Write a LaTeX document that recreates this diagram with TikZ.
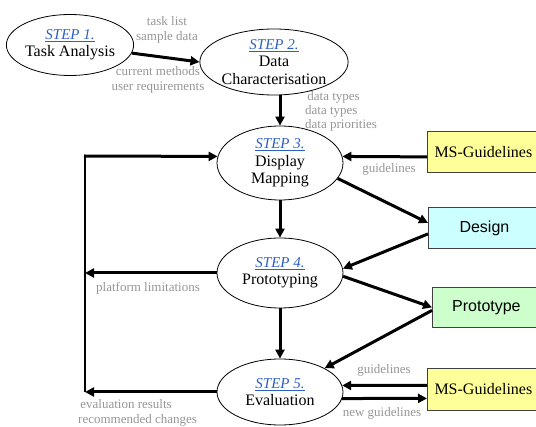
\documentclass[tikz,border=0pt]{standalone}
\usepackage{fontspec}
\setmainfont{Liberation Serif}
\newfontfamily\arialfont{Liberation Sans}
\usetikzlibrary{shapes.geometric,arrows.meta}

\definecolor{notegray}{RGB}{150,150,150}
\definecolor{stepblue}{RGB}{45,95,200}
\definecolor{msyellow}{RGB}{255,255,153}
\definecolor{designcyan}{RGB}{204,255,255}
\definecolor{protogreen}{RGB}{204,255,204}

\newcommand\stepno[1]{{\fontsize{15}{18}\selectfont\color{stepblue}\itshape\underline{#1}}}

\begin{document}
\begin{tikzpicture}[x=1pt,y=-1pt,
  stage/.style={ellipse,draw,line width=0.8pt,inner sep=0pt,align=center,
    font=\fontsize{16}{17.5}\selectfont},
  toolbox/.style={rectangle,draw=black!75,line width=0.8pt,anchor=north west,
    inner sep=0pt,minimum width=112pt,minimum height=41pt},
  flow/.style={line width=3pt,-{Triangle[length=9pt,width=9pt]}},
  note/.style={text=notegray,font=\fontsize{13}{15}\selectfont,inner sep=0pt}]

\useasboundingbox (0,0) rectangle (536,427);
\clip (0,0) rectangle (536,427);

% process stages
\node[stage,minimum width=113pt,minimum height=61pt] (s1) at (70,45)
  {\stepno{STEP 1.}\\Task Analysis};
\node[stage,minimum width=134pt,minimum height=66pt] (s2) at (274,62)
  {\stepno{STEP 2.}\\Data\\Characterisation};
\node[stage,minimum width=126pt,minimum height=74pt] (s3) at (280,163)
  {\stepno{STEP 3.}\\Display\\Mapping};
\node[stage,minimum width=126pt,minimum height=70pt] (s4) at (280,273)
  {\stepno{STEP 4.}\\Prototyping};
\node[stage,minimum width=126pt,minimum height=66pt] (s5) at (280,392)
  {\stepno{STEP 5.}\\Evaluation};

% inputs and products
\node[toolbox,fill=msyellow,font=\fontsize{16}{18}\selectfont] (ms1) at (427,131) {MS-Guidelines};
\node[toolbox,fill=designcyan,font=\arialfont\fontsize{16}{18}\selectfont] (des) at (428,207) {Design};
\node[toolbox,fill=protogreen,font=\arialfont\fontsize{16}{18}\selectfont,minimum width=108pt,minimum height=40pt] (pro) at (432,287) {Prototype};
\node[toolbox,fill=msyellow,font=\fontsize{16}{18}\selectfont,minimum height=42pt] (ms2) at (427,368) {MS-Guidelines};

% main flow
\draw[flow] (s1) -- (s2.west);
\draw[flow] (s3.north |- s2.south) -- (s3.north);
\draw[flow] (s3.south) -- (s4.north);
\draw[flow] (s4.south) -- (s5.north);

% feedback loop on the left
\coordinate (ltop) at (85,156);
\coordinate (lbot) at (85,392);
\draw[line width=2pt] (lbot) -- (ltop);
\draw[flow] ([xshift=-1pt]ltop) -- (s3.174);
\draw[flow] (s4.west) -- (s4.west -| ltop);
\draw[flow] (s5.west) -- (s5.west -| ltop);

% links to the boxes
\draw[flow] ([yshift=-5pt]ms1.west) -- (s3.6);
\draw[flow] (s3.-15) -- ([yshift=5pt]des.west);
\draw[flow] ([yshift=-6pt]des.west) -- (s4.4);
\draw[flow] (s4.-3) -- (pro.west);
\draw[flow] ([yshift=-3pt]pro.west) -- (s5.28);
\draw[flow] ([yshift=4pt]ms2.west) -- (s5.6);
\draw[flow] (s5.-6) -- ([yshift=-9pt]ms2.west);

% flow annotations
\node[note,align=center] (n1) at (167,29.5) {task list\\sample data};
\node[note,align=center] (n2) at (158,80) {current methods\\user requirements};
\node[note,align=left,anchor=west,font=\fontsize{13}{14}\selectfont] (n3) at (305,111) {\,data types\\data types\\data priorities};
\node[note] (n4) at (389,169) {guidelines};
\node[note] (n5) at (148,288) {platform limitations};
\node[note] (n6) at (384,370) {guidelines};
\node[note] (n7) at (382,413) {new guidelines};
\node[note,align=left,anchor=west] (n8) at (78,413) {\,evaluation results\\recommended changes};

\end{tikzpicture}
\end{document}
